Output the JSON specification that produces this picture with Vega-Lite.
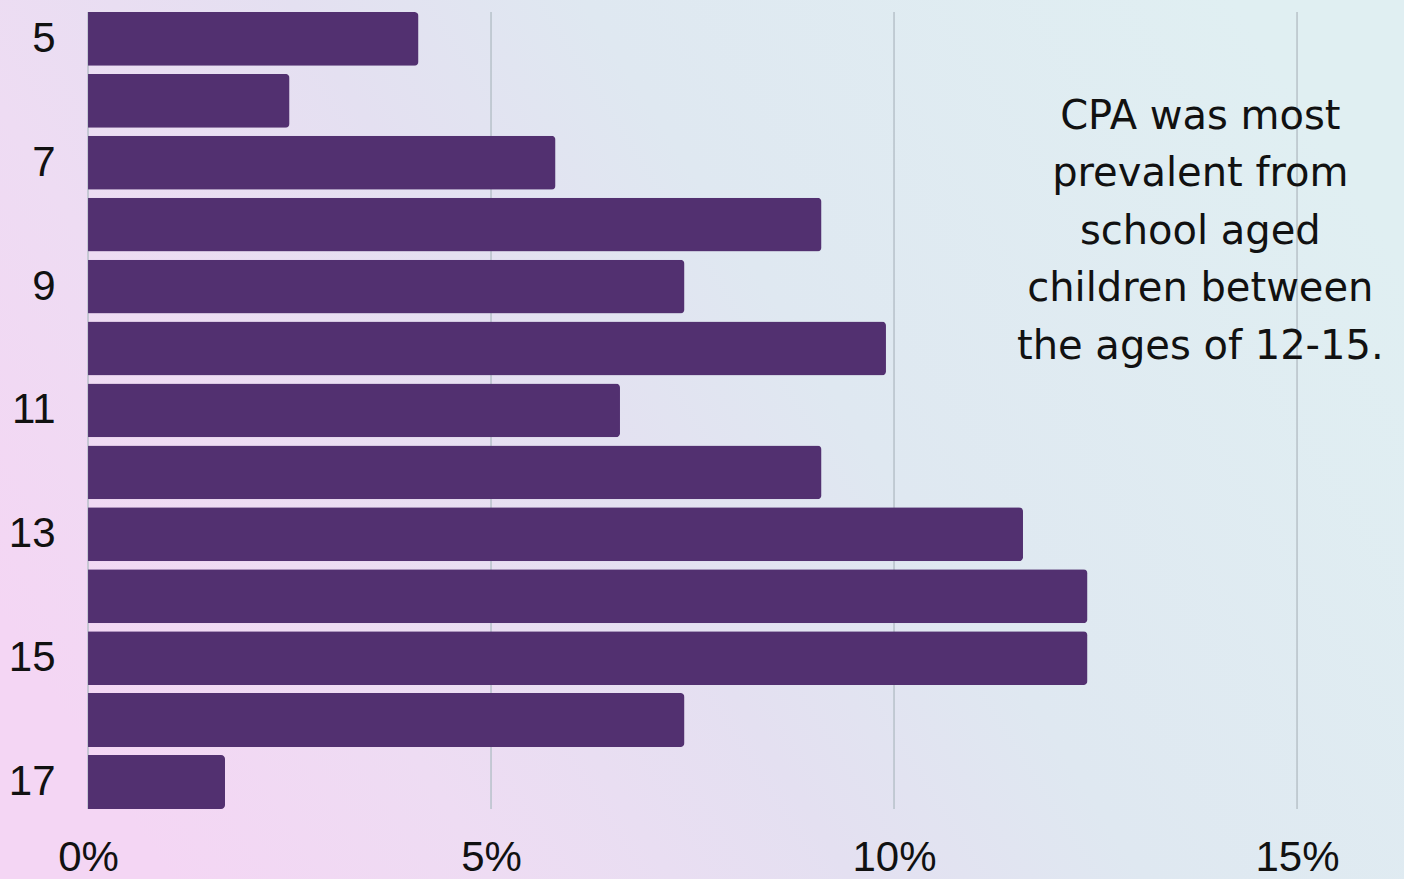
{
  "$schema": "https://vega.github.io/schema/vega-lite/v6.json",
  "width": 1404,
  "height": 879,
  "autosize": {"type": "none"},
  "padding": 0,
  "background": "#e8e0f2",
  "config": {
    "view": {
      "stroke": null,
      "fill": {
        "gradient": "linear",
        "x1": 0, "y1": 0.7, "x2": 1, "y2": 0.3,
        "stops": [
          {"offset": 0, "color": "#f4d6f4"},
          {"offset": 0.2, "color": "#eedcf3"},
          {"offset": 0.42, "color": "#e4e0f1"},
          {"offset": 0.6, "color": "#dfe8f1"},
          {"offset": 1, "color": "#e0eff2"}
        ]
      }
    }
  },
  "datasets": {
    "bars": [
      {"age": 5, "pct": 4.1},
      {"age": 6, "pct": 2.5},
      {"age": 7, "pct": 5.8},
      {"age": 8, "pct": 9.1},
      {"age": 9, "pct": 7.4},
      {"age": 10, "pct": 9.9},
      {"age": 11, "pct": 6.6},
      {"age": 12, "pct": 9.1},
      {"age": 13, "pct": 11.6},
      {"age": 14, "pct": 12.4},
      {"age": 15, "pct": 12.4},
      {"age": 16, "pct": 7.4},
      {"age": 17, "pct": 1.7}
    ],
    "grid": [{"g": 0}, {"g": 5}, {"g": 10}, {"g": 15}],
    "note": [
      {"age": 6, "pct": 13.8, "text": ["CPA was most", "prevalent from", "school aged", "children between", "the ages of 12-15."]}
    ]
  },
  "layer": [
    {
      "data": {"name": "grid"},
      "mark": {"type": "rule", "color": "#b7c1c9", "strokeWidth": 1.5},
      "encoding": {
        "x": {"field": "g", "type": "quantitative"},
        "y": {"datum": 5, "type": "ordinal", "bandPosition": 0},
        "y2": {"datum": 17, "bandPosition": 1}
      }
    },
    {
      "data": {"name": "bars"},
      "mark": {"type": "bar", "color": "#523070", "cornerRadiusEnd": 4},
      "encoding": {
        "y": {
          "field": "age", "type": "ordinal", "sort": "ascending",
          "scale": {"paddingInner": 0.13, "paddingOuter": 0.663, "align": 0.146},
          "axis": {
            "title": null, "domain": false, "ticks": false, "grid": false,
            "offset": -88,
            "labelFont": "Liberation Sans", "labelFontSize": 42, "labelColor": "#111111",
            "labelPadding": 33,
            "labelExpr": "datum.value % 2 == 1 ? datum.label : ''"
          }
        },
        "x": {
          "field": "pct", "type": "quantitative",
          "scale": {"domain": [-1.092, 16.327], "nice": false, "zero": false},
          "axis": {
            "title": null, "domain": false, "ticks": false, "grid": false,
            "offset": -66,
            "values": [0, 5, 10, 15],
            "labelExpr": "format(datum.value, 'd') + '%'",
            "labelFont": "Liberation Sans", "labelFontSize": 42, "labelColor": "#111111",
            "labelPadding": 24, "labelFlush": false
          }
        }
      }
    },
    {
      "data": {"name": "note"},
      "mark": {"type": "text", "font": "DejaVu Sans", "fontSize": 40, "color": "#111111", "align": "center", "baseline": "middle", "lineHeight": 57.5, "dy": 16},
      "encoding": {
        "y": {"field": "age", "type": "ordinal"},
        "x": {"field": "pct", "type": "quantitative"},
        "text": {"field": "text"}
      }
    }
  ]
}
